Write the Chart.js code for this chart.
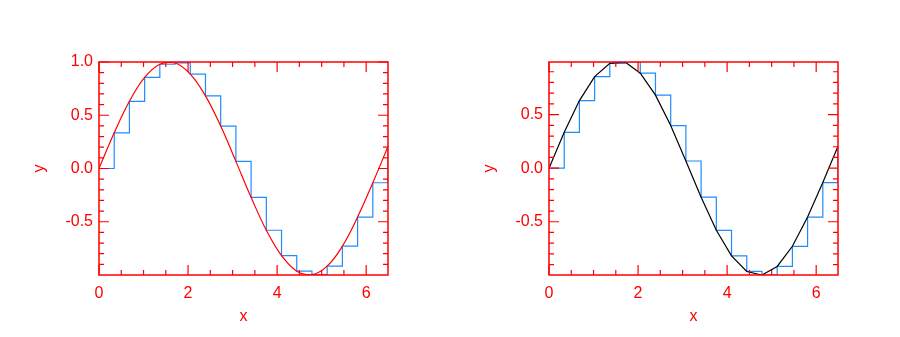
<!DOCTYPE html>
<html>
<head>
<meta charset="utf-8">
<script src="https://cdn.jsdelivr.net/npm/chart.js@4"></script>
<style>
  html, body { margin: 0; padding: 0; background: #fff; }
  #wrap { position: relative; width: 900px; height: 337px; }
  canvas { position: absolute; top: 0; }
  #leftChart { left: 0; }
  #rightChart { left: 450px; }
</style>
</head>
<body>
<div id="wrap">
  <canvas id="leftChart" width="450" height="337"></canvas>
  <canvas id="rightChart" width="450" height="337"></canvas>
</div>
<script>
// サンプル点 (x, sin x の読み取り値)
const xValues = [0, 0.342, 0.683, 1.025, 1.366, 1.708, 2.050, 2.391, 2.733, 3.074,
                 3.416, 3.758, 4.099, 4.441, 4.782, 5.124, 5.466, 5.807, 6.149, 6.490];
const yValues = [0.000, 0.335, 0.631, 0.855, 0.979, 0.991, 0.887, 0.682, 0.398, 0.067,
                 -0.271, -0.580, -0.818, -0.964, -0.997, -0.917, -0.729, -0.456, -0.134, 0.206];

// 目盛り
const xTicks = [0, 2, 4, 6];
const xMinorTicks = [0.5, 1, 1.5, 2.5, 3, 3.5, 4.5, 5, 5.5];
const leftYTicks = [-0.5, 0, 0.5, 1.0];
const rightYTicks = [-0.5, 0, 0.5];
const yMinorTicks = [-0.9, -0.8, -0.7, -0.6, -0.4, -0.3, -0.2, -0.1,
                     0.1, 0.2, 0.3, 0.4, 0.6, 0.7, 0.8, 0.9];

const leftYRange = [-1.0, 1.0];
const rightYRange = [-0.997, 0.991];
const xRange = [0, 6.49];

const RED = '#ff0000';
const BLUE = '#1e8cff';
const FONT = { family: "'Liberation Sans', Arial, Helvetica, sans-serif", size: 16 };

const points = xValues.map((x, i) => ({ x: x, y: yValues[i] }));

// 枠と内向きの目盛りを描くプラグイン
const boxTicksPlugin = {
    id: 'boxTicks',
    afterDraw(chart, args, options) {
        const { ctx, chartArea: { left, right, top, bottom }, scales: { x, y } } = chart;
        const major = 10, minor = 5;

        ctx.save();
        ctx.strokeStyle = RED;
        ctx.lineWidth = 1.5;
        ctx.strokeRect(left, top, right - left, bottom - top);

        const tickX = (vals, len) => {
            vals.forEach(v => {
                const px = x.getPixelForValue(v);
                if (px < left - 0.5 || px > right + 0.5) return;
                ctx.beginPath();
                ctx.moveTo(px, bottom); ctx.lineTo(px, bottom - len);
                ctx.moveTo(px, top); ctx.lineTo(px, top + len);
                ctx.stroke();
            });
        };
        const tickY = (vals, len) => {
            vals.forEach(v => {
                const py = y.getPixelForValue(v);
                if (py < top - 0.5 || py > bottom + 0.5) return;
                ctx.beginPath();
                ctx.moveTo(left, py); ctx.lineTo(left + len, py);
                ctx.moveTo(right, py); ctx.lineTo(right - len, py);
                ctx.stroke();
            });
        };

        ctx.lineWidth = 1.2;
        tickX(xTicks, major);
        tickX(xMinorTicks, minor);
        tickY(options.majorY || [], major);
        tickY(yMinorTicks, minor);
        ctx.restore();
    }
};

function makeChart(id, curveColor, smooth, yRange, yTicks) {
    const ctx = document.getElementById(id).getContext('2d');
    return new Chart(ctx, {
        type: 'line',
        data: {
            datasets: [
                {
                    label: 'curve',
                    data: points,
                    borderColor: curveColor,
                    borderWidth: 1.2,
                    pointRadius: 0,
                    tension: smooth ? 0.4 : 0,
                    fill: false,
                    order: 0
                },
                {
                    label: 'step',
                    data: points,
                    borderColor: BLUE,
                    borderWidth: 1.2,
                    pointRadius: 0,
                    stepped: true,
                    fill: false,
                    order: 1
                }
            ]
        },
        plugins: [boxTicksPlugin],
        options: {
            responsive: false,
            animation: false,
            layout: { padding: { left: 30, top: 62, right: 62, bottom: 11 } },
            plugins: {
                legend: { display: false },
                tooltip: { enabled: false },
                boxTicks: { majorY: yTicks }
            },
            scales: {
                x: {
                    type: 'linear',
                    min: xRange[0],
                    max: xRange[1],
                    grid: { display: false, drawTicks: false },
                    border: { display: false },
                    afterBuildTicks: s => { s.ticks = xTicks.map(v => ({ value: v })); },
                    afterFit: s => { s.height = 51; },
                    ticks: {
                        color: RED,
                        font: FONT,
                        padding: 9,
                        maxRotation: 0,
                        callback: v => String(v)
                    },
                    title: {
                        display: true,
                        text: 'x',
                        color: RED,
                        font: FONT,
                        padding: 0
                    }
                },
                y: {
                    type: 'linear',
                    min: yRange[0],
                    max: yRange[1],
                    grid: { display: false, drawTicks: false },
                    border: { display: false },
                    afterBuildTicks: s => { s.ticks = yTicks.map(v => ({ value: v })); },
                    afterFit: s => { s.width = 69; },
                    ticks: {
                        color: RED,
                        font: FONT,
                        padding: 6,
                        callback: v => Number(v).toFixed(1)
                    },
                    title: {
                        display: true,
                        text: 'y',
                        color: RED,
                        font: FONT,
                        padding: 0
                    }
                }
            }
        }
    });
}

makeChart('leftChart', RED, true, leftYRange, leftYTicks);
makeChart('rightChart', '#000000', false, rightYRange, rightYTicks);
</script>
</body>
</html>
